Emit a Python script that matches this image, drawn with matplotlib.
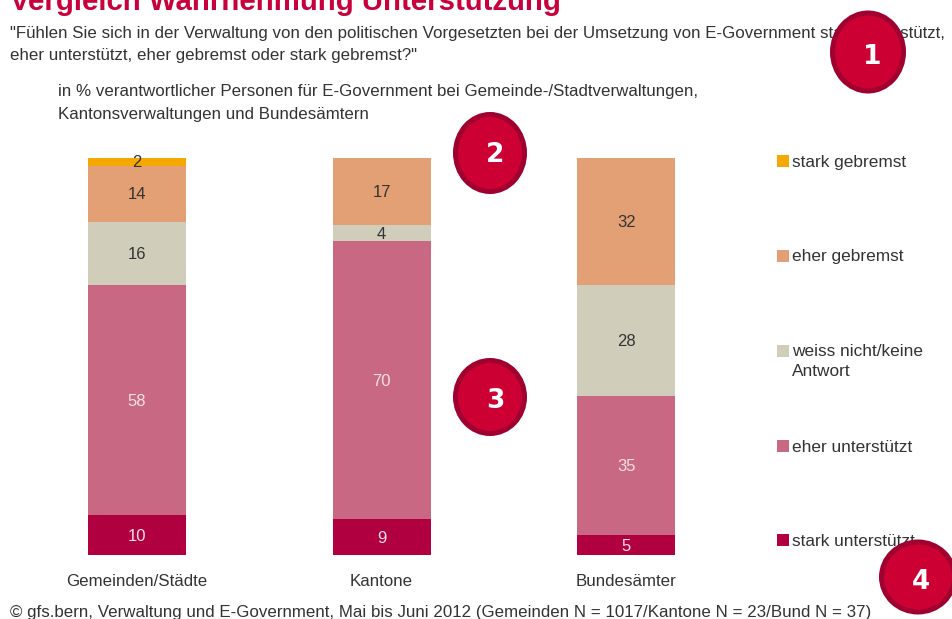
import matplotlib
matplotlib.use("Agg")
import matplotlib.pyplot as plt
from matplotlib.patches import Ellipse, Rectangle

plt.rcParams["font.family"] = ["Liberation Sans", "DejaVu Sans"]

W, H = 952, 619

categories = ["Gemeinden/Städte", "Kantone", "Bundesämter"]
series_names = ["stark unterstützt", "eher unterstützt", "weiss nicht/keine\nAntwort",
                "eher gebremst", "stark gebremst"]
stark_unterstuetzt = [10, 9, 5]
eher_unterstuetzt = [58, 70, 35]
weiss_nicht = [16, 4, 28]
eher_gebremst = [14, 17, 32]
stark_gebremst = [2, 0, 0]
series_values = [stark_unterstuetzt, eher_unterstuetzt, weiss_nicht, eher_gebremst, stark_gebremst]

colors = ["#B0003F", "#C96882", "#D0CEBB", "#E3A074", "#F5A800"]
label_colors = ["#F4E0E6", "#F4E0E6", "#333333", "#333333", "#333333"]

fig = plt.figure(figsize=(W / 100, H / 100), dpi=100)

# overlay in pixel coordinates for text and badges
bg = fig.add_axes([0, 0, 1, 1], zorder=1)
bg.set_xlim(0, W)
bg.set_ylim(H, 0)
bg.axis("off")

# bars
px_per_unit = 244.6
ax = fig.add_axes([0, (H - 555) / H, 740 / W, (555 - 158) / H], zorder=2)
ax.patch.set_alpha(0)
ax.set_xlim(-137 / px_per_unit, (740 - 137) / px_per_unit)
ax.set_ylim(0, 100)
ax.axis("off")

bottom = [0, 0, 0]
for vals, color, lc in zip(series_values, colors, label_colors):
    ax.bar(range(3), vals, width=0.4, bottom=bottom, color=color, linewidth=0)
    for i, v in enumerate(vals):
        if v:
            ax.annotate(str(v), (i, bottom[i] + v / 2), xytext=(0, -1), textcoords="offset pixels",
                        ha="center", va="center", fontsize=12, color=lc)
    bottom = [b + v for b, v in zip(bottom, vals)]

for i, cat in enumerate(categories):
    ax.annotate(cat, (i, 0), xytext=(0, -27), textcoords="offset pixels",
                ha="center", va="center", fontsize=12.2, color="#333333",
                annotation_clip=False)

# titles
txt = "#333333"
bg.text(10, 10, "Vergleich Wahrnehmung Unterstützung", fontsize=21.2, fontweight="bold",
        color="#C8003C", va="baseline", clip_on=False)
bg.text(10, 38, "\"Fühlen Sie sich in der Verwaltung von den politischen Vorgesetzten bei der "
        "Umsetzung von E-Government stark unterstützt,", fontsize=12.15, color=txt, va="baseline")
bg.text(10, 60, "eher unterstützt, eher gebremst oder stark gebremst?\"",
        fontsize=12.15, color=txt, va="baseline")
bg.text(58, 96, "in % verantwortlicher Personen für E-Government bei Gemeinde-/Stadtverwaltungen,",
        fontsize=12.2, color=txt, va="baseline")
bg.text(58, 119, "Kantonsverwaltungen und Bundesämtern", fontsize=12.2, color=txt, va="baseline")
bg.text(10, 617, "© gfs.bern, Verwaltung und E-Government, Mai bis Juni 2012 "
        "(Gemeinden N = 1017/Kantone N = 23/Bund N = 37)", fontsize=12.2, color=txt, va="baseline")

# legend
legend_y = [540, 446, 351, 256, 161]
for name, color, y in zip(series_names, colors, legend_y):
    bg.add_patch(Rectangle((777, y - 6), 12, 12, color=color, linewidth=0))
    first_line, *rest = name.split("\n")
    bg.text(792, y + 1, first_line, fontsize=12.4, color=txt, va="center")
    if rest:
        bg.text(792, y + 21, rest[0], fontsize=12.4, color=txt, va="center")

# numbered badges sit on top of everything
top = fig.add_axes([0, 0, 1, 1], zorder=3)
top.set_xlim(0, W)
top.set_ylim(H, 0)
top.axis("off")
badges = [("1", 868, 52, 76, 83), ("2", 490, 153, 74, 82), ("3", 490, 397, 74, 78), ("4", 918, 577, 78, 75)]
digit_pos = [(872, 57), (495, 155), (495, 401), (921, 582)]
for (label, cx, cy, w, h), (dx, dy) in zip(badges, digit_pos):
    top.add_patch(Ellipse((cx, cy), w - 5, h - 5, facecolor="#CC0033", edgecolor="#A0002F", linewidth=3.6))
    top.text(dx, dy, label, fontsize=19, fontweight="bold", color="white",
             ha="center", va="center", family=["DejaVu Sans"])

fig.savefig("out.png", dpi=100)
